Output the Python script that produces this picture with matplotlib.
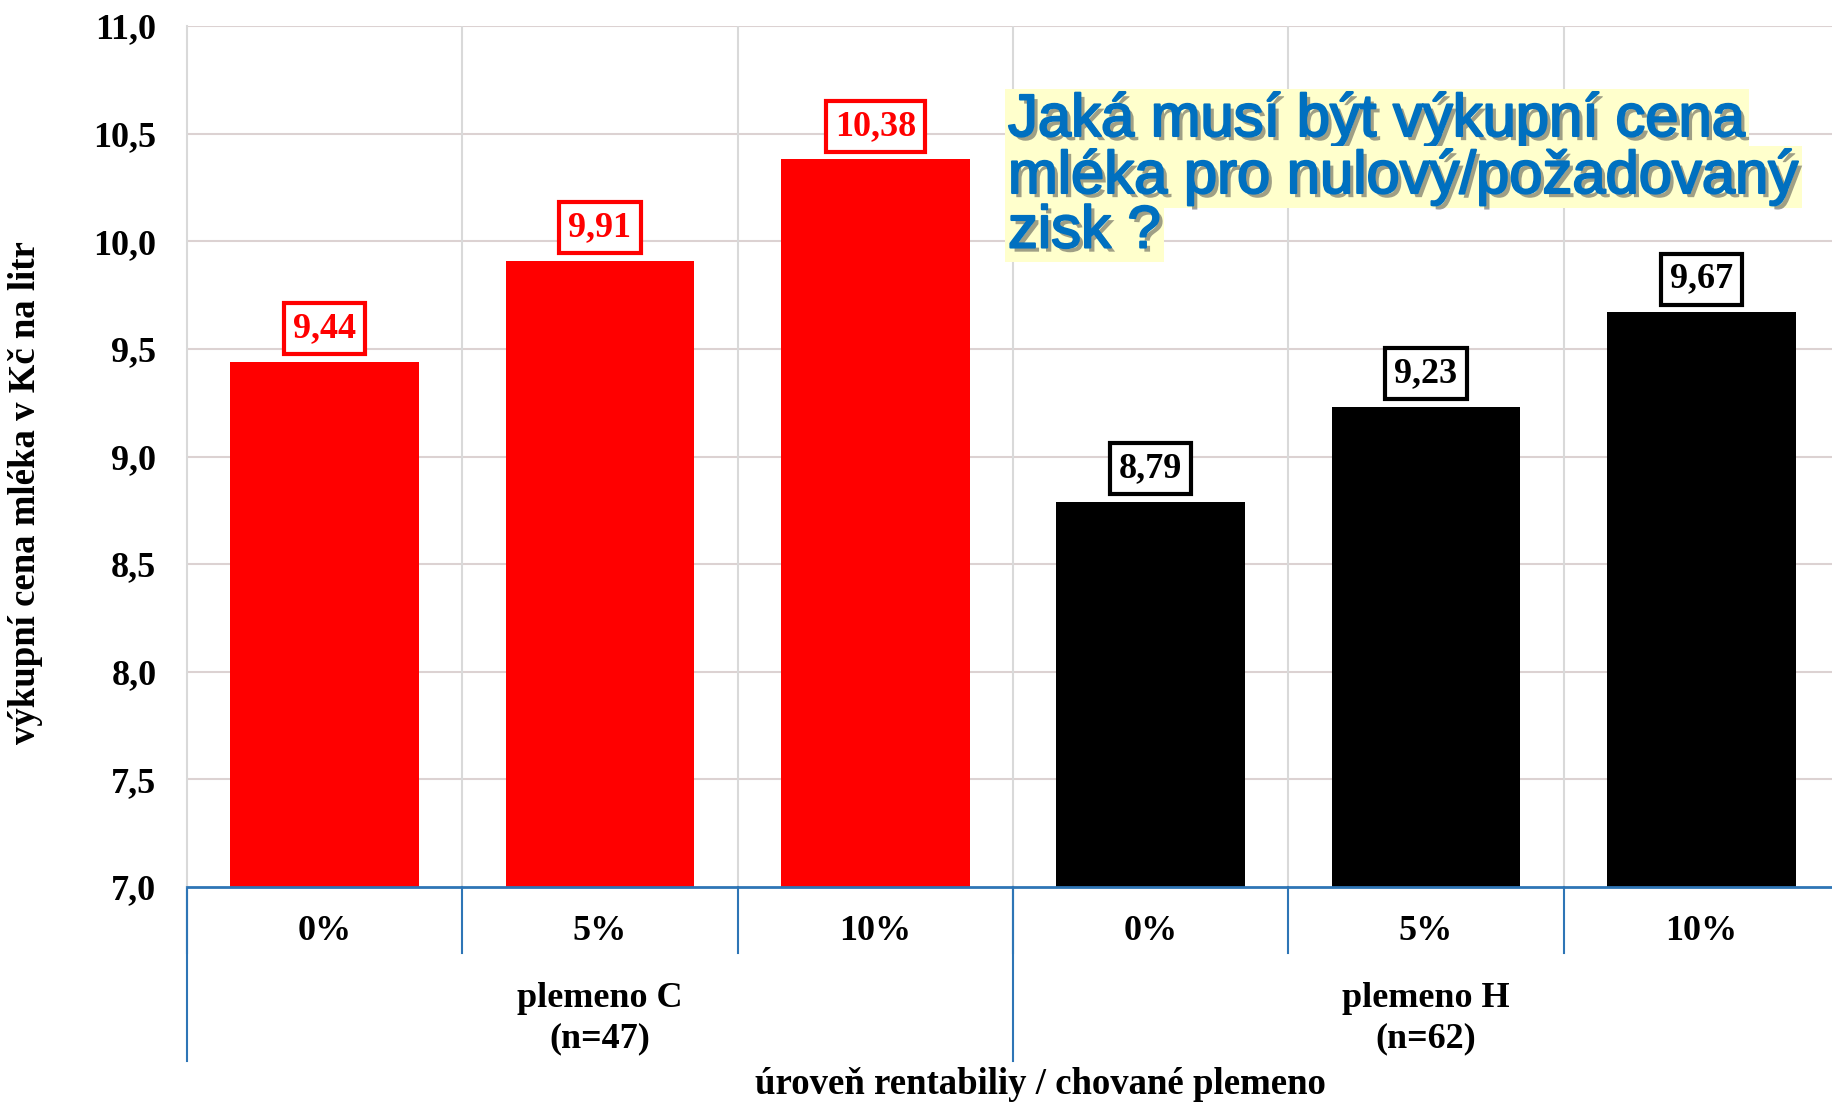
import matplotlib.pyplot as plt
import matplotlib.patheffects as pe
from matplotlib.transforms import blended_transform_factory

# data
levels = ['0%', '5%', '10%', '0%', '5%', '10%']
values = [9.44, 9.91, 10.38, 8.79, 9.23, 9.67]
groups = ['plemeno C\n(n=47)', 'plemeno H\n(n=62)']
group_sizes = [3, 3]
group_colors = ['#FF0000', '#000000']
yticks = [7.0, 7.5, 8.0, 8.5, 9.0, 9.5, 10.0, 10.5, 11.0]
title_lines = ['Jaká musí být výkupní cena', 'mléka pro nulový/požadovaný', 'zisk ?']

serif = ['Liberation Serif', 'DejaVu Serif']
W, H = 1833, 1102
fig = plt.figure(figsize=(W / 100, H / 100), dpi=100)
ax = fig.add_axes([187 / W, 1 - 887 / H, (1839 - 187) / W, (887 - 26) / H])

colors = []
for c, n in zip(group_colors, group_sizes):
    colors += [c] * n
x = list(range(len(values)))
ax.bar(x, values, width=0.686, color=colors, zorder=3)

ax.set_xlim(-0.5, len(values) - 0.5)
ax.set_ylim(7.0, 11.0)
ax.set_yticks(yticks)
ax.set_yticklabels([f'{v:.1f}'.replace('.', ',') for v in yticks],
                   fontfamily=serif, fontweight='bold', fontsize=26)
ax.tick_params(axis='y', length=0, pad=22)
ax.set_xticks([])
for s in ['top', 'right', 'bottom']:
    ax.spines[s].set_visible(False)
ax.spines['left'].set_color('#D9D9D9')
ax.spines['left'].set_linewidth(1.5)

# gridlines
for v in yticks[1:]:
    ax.axhline(v, color='#DCD2D2', lw=1.5, zorder=1)
for b in range(1, len(values)):
    ax.axvline(b - 0.5, color='#D9D9D9', lw=1.5, zorder=1)

# value labels
for xi, v, c in zip(x, values, colors):
    ax.annotate(f'{v:.2f}'.replace('.', ','), xy=(xi, v), xytext=(0, 12),
                textcoords='offset points', ha='center', va='bottom',
                color=c, fontfamily=serif, fontweight='bold', fontsize=26,
                bbox=dict(boxstyle='square,pad=0.25', fc='white', ec=c, lw=3),
                zorder=5)

# multi-level category axis
blue = '#2E75B6'
tr = blended_transform_factory(ax.transData, fig.transFigure)
y_axis = 1 - 887 / H
y_inner = 1 - 953 / H
y_outer = 1 - 1061 / H
ax.plot([-0.5, len(values) - 0.5], [y_axis, y_axis], color=blue, lw=2,
        transform=tr, clip_on=False, zorder=6)
for b in range(len(values) + 1):
    ax.plot([b - 0.5, b - 0.5], [y_axis, y_inner], color=blue, lw=1.5,
            transform=tr, clip_on=False)
for xi, lab in zip(x, levels):
    ax.text(xi, 1 - 932 / H, lab, transform=tr, ha='center', va='center',
            fontfamily=serif, fontweight='bold', fontsize=26)
start = 0
for g, n in zip(groups, group_sizes):
    ax.plot([start - 0.5, start - 0.5], [y_axis, y_outer], color=blue, lw=1.5,
            transform=tr, clip_on=False)
    ax.text(start + (n - 1) / 2, 1 - 1019 / H, g, transform=tr, ha='center',
            va='center', fontfamily=serif, fontweight='bold', fontsize=26,
            linespacing=1.3)
    start += n
ax.plot([start - 0.5, start - 0.5], [y_axis, y_outer], color=blue, lw=1.5,
        transform=tr, clip_on=False)

fig.text(1040 / W, 1 - 1085 / H, 'úroveň rentabiliy / chované plemeno',
         ha='center', va='center', fontfamily=serif, fontweight='bold', fontsize=26.5)
fig.text(26 / W, 1 - 493 / H, 'výkupní cena mléka v Kč na litr', rotation=90,
         ha='center', va='center', fontfamily=serif, fontweight='bold', fontsize=26.5)

# title callout
title_y = [120, 177, 232]
effects = [pe.SimplePatchShadow(offset=(3, -3), shadow_rgbFace='#404040', alpha=0.5),
           pe.withStroke(linewidth=1.5, foreground='#0070C0')]
for line, ty in zip(title_lines, title_y):
    fig.text(1008 / W, 1 - ty / H, line, ha='left', va='center',
             fontfamily='Liberation Sans', fontsize=43, color='#0070C0',
             path_effects=effects, zorder=10,
             bbox=dict(boxstyle='square,pad=0.05', fc='#FFFFCC', ec='none'))

fig.savefig('out.png', dpi=100)
